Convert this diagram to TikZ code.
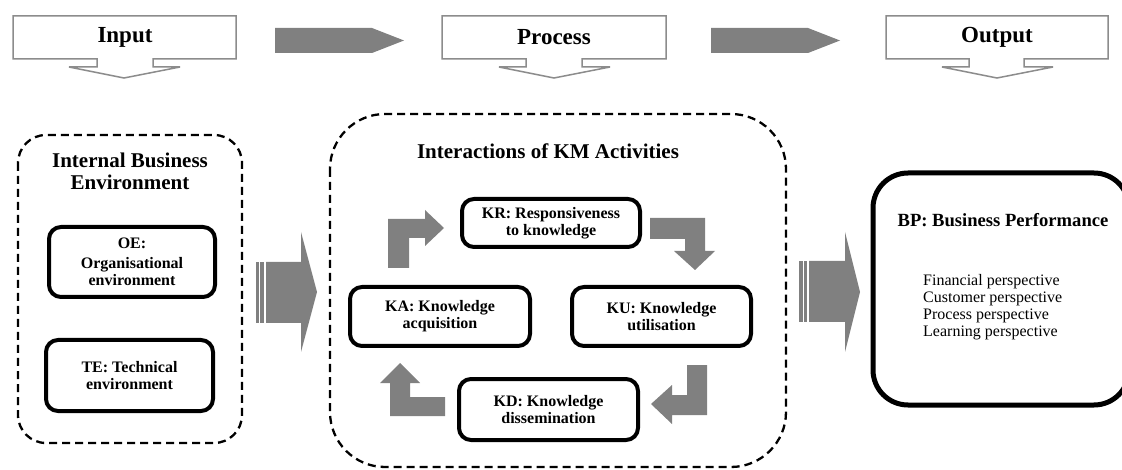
\documentclass[tikz,border=0pt]{standalone}
\usepackage{fontspec}
\setmainfont{Liberation Serif}
\definecolor{agray}{RGB}{128,128,128}
\definecolor{lgray}{RGB}{140,140,140}
\tikzset{
  callout/.style={draw=lgray, line width=1.5pt, fill=white, line join=miter},
  blockarrow/.style={fill=agray, draw=none},
  container/.style={draw=black, line width=2.3pt, dash pattern=on 8pt off 5pt},
  kbox/.style={draw=black, line width=4pt, rounded corners=12pt, align=center, inner sep=0pt,
     font=\fontsize{16}{17}\selectfont\bfseries},
  headtext/.style={font=\fontsize{23}{24}\selectfont\bfseries},
  titletext/.style={font=\fontsize{21}{22}\selectfont\bfseries, align=center},
}
\begin{document}
\begin{tikzpicture}[x=1pt,y=-1pt]
\useasboundingbox (0,0) rectangle (1122,470);

% header callouts
\draw[callout] (13,16) -- (236,16) -- (236,59) -- (153,59) -- (153,67) -- (180,67) -- (124,78) -- (69,67) -- (97,67) -- (97,59) -- (13,59) -- cycle;
\node[headtext] (input) at (125,37) {Input};
\draw[callout] (442,16) -- (666,16) -- (666,59) -- (582,59) -- (582,67) -- (610,67) -- (554,78) -- (499,67) -- (526,67) -- (526,59) -- (442,59) -- cycle;
\node[headtext] (process) at (554,37) {Process};
\draw[callout] (886,16) -- (1108,16) -- (1108,59) -- (1024,59) -- (1024,67) -- (1053,67) -- (997,78) -- (942,67) -- (969,67) -- (969,59) -- (886,59) -- cycle;
\node[headtext] (output) at (997,37) {Output};

% gray pentagon arrows between headers
\fill[blockarrow] (275,28) -- (372,28) -- (404,40.5) -- (372,53) -- (275,53) -- cycle;
\fill[blockarrow] (711,28) -- (808,28) -- (840,40.5) -- (808,53) -- (711,53) -- cycle;

% left container
\draw[container, rounded corners=28pt] (18,135) rectangle (242,443);
\node[titletext] (ibe) at (130,171) {Internal Business\\Environment};
\node[kbox, minimum width=166pt, minimum height=70pt] (oe) at (132,262) {OE:\\[3pt]Organisational\\environment};
\node[kbox, minimum width=167pt, minimum height=71pt] (te) at (129.5,375.5) {TE: Technical\\environment};

% striped block arrow 1
\fill[blockarrow] (256,262) rectangle (258.5,323);
\fill[blockarrow] (260,262) rectangle (263.5,323);
\fill[blockarrow] (266,262) -- (301,262) -- (301,232) -- (317,292) -- (301,352) -- (301,323) -- (266,323) -- cycle;

% middle container
\draw[container, rounded corners=55pt] (330,114) rectangle (786,467);
\node[titletext] (kmtitle) at (548,151) {Interactions of KM Activities};
\node[kbox, minimum width=178pt, minimum height=48pt] (kr) at (551,223) {KR: Responsiveness\\to knowledge};
\node[kbox, minimum width=180pt, minimum height=59pt] (ka) at (440,316.5) {KA: Knowledge\\acquisition};
\node[kbox, minimum width=179pt, minimum height=59pt] (ku) at (661.5,316.5) {KU: Knowledge\\utilisation};
\node[kbox, minimum width=179pt, minimum height=61pt] (kd) at (548.5,409.5) {KD: Knowledge\\dissemination};

% elbow arrows
\fill[blockarrow] (388,268) -- (388,219) -- (425,219) -- (425,210) -- (444,228) -- (425,246) -- (425,238) -- (409,238) -- (409,268) -- cycle;
\fill[blockarrow] (650,218) -- (705,218) -- (705,251) -- (715,251) -- (695,270) -- (674,251) -- (685,251) -- (685,239) -- (650,239) -- cycle;
\fill[blockarrow] (687,365) -- (707,365) -- (707,415) -- (672,415) -- (672,424) -- (651,404) -- (672,385) -- (672,395) -- (687,395) -- cycle;
\fill[blockarrow] (445,397) -- (445,416) -- (390,416) -- (390,383) -- (380,383) -- (400,363) -- (420,383) -- (410,383) -- (410,397) -- cycle;

% striped block arrow 2
\fill[blockarrow] (799,261) rectangle (802.5,322);
\fill[blockarrow] (804,261) rectangle (807,322);
\fill[blockarrow] (809,261) -- (845,261) -- (845,232) -- (860,292) -- (845,352) -- (845,322) -- (809,322) -- cycle;

% right box
\draw[line width=5pt, rounded corners=35pt] (873,173) rectangle (1129,405);
\node[font=\fontsize{18.6}{20}\selectfont\bfseries] (bp) at (1003,220) {BP: Business Performance};
\node[anchor=west, align=left, inner sep=0pt, font=\fontsize{16}{16.8}\selectfont] (persp) at (923,307)
  {Financial perspective\\Customer perspective\\Process perspective\\Learning perspective};
\end{tikzpicture}
\end{document}
